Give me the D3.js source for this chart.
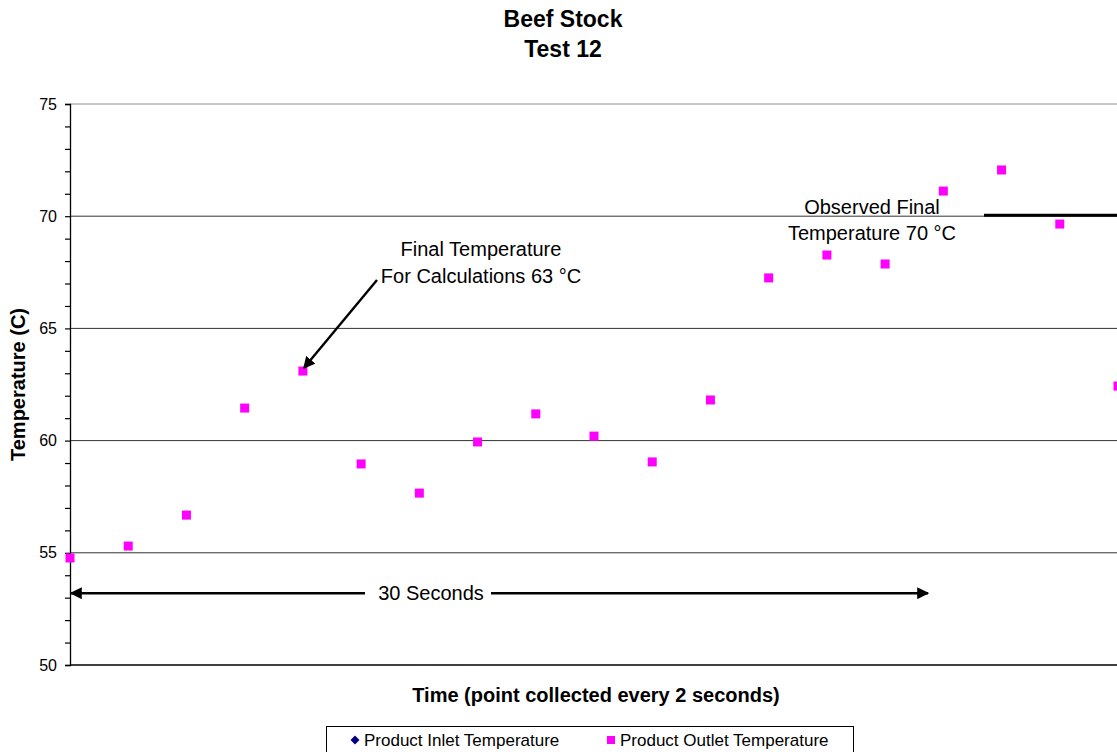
<!DOCTYPE html>
<html>
<head>
<meta charset="utf-8">
<script src="https://cdn.jsdelivr.net/npm/d3@7"></script>
<style>
  html, body { margin: 0; padding: 0; background: #fff; }
  svg { display: block; font-family: "Liberation Sans", Arial, sans-serif; }
</style>
</head>
<body>
<svg id="chart" width="1117" height="752"></svg>
<script>
// Sample index (one reading every 2 seconds)
const sampleIndex = [0, 1, 2, 3, 4, 5, 6, 7, 8, 9, 10, 11, 12, 13, 14, 15, 16, 17, 18];
// Product outlet temperature, °C
const outletTemps = [54.77, 55.30, 56.68, 61.45, 63.10, 58.96, 57.66, 59.94, 61.19, 60.20,
                     59.05, 61.81, 67.25, 68.27, 67.87, 71.12, 72.06, 69.65, 62.43];
// Product inlet temperature, °C (no readings inside the plotted range)
const inletTemps = [];
const yTicks = [50, 55, 60, 65, 70, 75];
const legendLabels = ["Product Inlet Temperature", "Product Outlet Temperature"];

const svg = d3.select("#chart");
const plotLeft = 70, plotTop = 104, plotBottom = 665, plotRight = 1118;

const x = d3.scaleLinear().domain([0, 18]).range([plotLeft, plotRight]);
const y = d3.scaleLinear().domain([50, 75]).range([plotBottom, plotTop]);

// Square rotated 45° for the inlet series
const diamond = d3.symbol(d3.symbolSquare, 40);

// Horizontal grid lines
svg.append("g")
  .selectAll("line")
  .data(yTicks.filter(d => d > 50))
  .join("line")
  .attr("x1", plotLeft).attr("x2", 1117)
  .attr("y1", d => y(d)).attr("y2", d => y(d))
  .attr("stroke", d => d === 75 ? "#8c8c8c" : "#333")
  .attr("stroke-width", 1);

// Y axis with major labels and minor ticks each degree
const yAxis = d3.axisLeft(y)
  .tickValues(d3.range(50, 76, 1))
  .tickSize(5)
  .tickFormat(d => yTicks.includes(d) ? d : "");
const gy = svg.append("g").attr("transform", `translate(${plotLeft},0)`).call(yAxis);
gy.select(".domain").attr("stroke", "#000").attr("stroke-width", 1.3);
gy.selectAll(".tick line").attr("stroke", "#000").attr("stroke-width", 1.2);
gy.selectAll(".tick text")
  .attr("font-size", 16).attr("fill", "#000")
  .attr("x", -13).attr("font-family", "Liberation Sans, Arial, sans-serif");

// X axis baseline
svg.append("line")
  .attr("x1", plotLeft).attr("x2", 1117)
  .attr("y1", plotBottom).attr("y2", plotBottom)
  .attr("stroke", "#000").attr("stroke-width", 1.3);

// Outlet temperature markers
const ms = 9;
svg.append("g")
  .selectAll("rect")
  .data(outletTemps)
  .join("rect")
  .attr("x", (d, i) => x(sampleIndex[i]) - ms / 2)
  .attr("y", d => y(d) - ms / 2)
  .attr("width", ms).attr("height", ms)
  .attr("fill", "#ff00ff");

// Inlet temperature markers
svg.append("g")
  .selectAll("path")
  .data(inletTemps)
  .join("path")
  .attr("d", diamond)
  .attr("transform", (d, i) => `translate(${x(sampleIndex[i])},${y(d)}) rotate(45)`)
  .attr("fill", "#000080");

// Arrowhead marker
const defs = svg.append("defs");
defs.append("marker")
  .attr("id", "arrow")
  .attr("viewBox", "0 0 10 10")
  .attr("refX", 9).attr("refY", 5)
  .attr("markerWidth", 5).attr("markerHeight", 5)
  .attr("markerUnits", "strokeWidth")
  .attr("orient", "auto-start-reverse")
  .append("path").attr("d", "M0,0 L10,5 L0,10 Z").attr("fill", "#000");

const annFont = 20;

// "30 Seconds" span annotation
const spanY = y(53.2);
svg.append("line")
  .attr("x1", x(0) + 1).attr("x2", 365)
  .attr("y1", spanY).attr("y2", spanY)
  .attr("stroke", "#000").attr("stroke-width", 2.4)
  .attr("marker-start", "url(#arrow)");
svg.append("line")
  .attr("x1", 491).attr("x2", 928)
  .attr("y1", spanY).attr("y2", spanY)
  .attr("stroke", "#000").attr("stroke-width", 2.4)
  .attr("marker-end", "url(#arrow)");
svg.append("text")
  .attr("x", 431).attr("y", spanY + 7)
  .attr("text-anchor", "middle").attr("font-size", annFont)
  .text("30 Seconds");

// Final temperature for calculations annotation
svg.append("line")
  .attr("x1", 377).attr("y1", 280)
  .attr("x2", x(4) + 1).attr("y2", y(63.1) - 3)
  .attr("stroke", "#000").attr("stroke-width", 2.4)
  .attr("marker-end", "url(#arrow)");
svg.append("text")
  .attr("x", 481).attr("y", 256)
  .attr("text-anchor", "middle").attr("font-size", annFont)
  .text("Final Temperature");
svg.append("text")
  .attr("x", 481).attr("y", 283)
  .attr("text-anchor", "middle").attr("font-size", annFont)
  .text("For Calculations 63 \u00B0C");

// Observed final temperature annotation
svg.append("line")
  .attr("x1", 984).attr("x2", 1117)
  .attr("y1", y(70) - 1).attr("y2", y(70) - 1)
  .attr("stroke", "#000").attr("stroke-width", 3);
svg.append("text")
  .attr("x", 872).attr("y", 214)
  .attr("text-anchor", "middle").attr("font-size", annFont)
  .text("Observed Final");
svg.append("text")
  .attr("x", 872).attr("y", 240)
  .attr("text-anchor", "middle").attr("font-size", annFont)
  .text("Temperature 70 \u00B0C");

// Titles
svg.append("text")
  .attr("x", 563).attr("y", 27)
  .attr("text-anchor", "middle").attr("font-size", 23).attr("font-weight", "bold")
  .text("Beef Stock");
svg.append("text")
  .attr("x", 563).attr("y", 57)
  .attr("text-anchor", "middle").attr("font-size", 23).attr("font-weight", "bold")
  .text("Test 12");

// Axis titles
svg.append("text")
  .attr("transform", `translate(25,${(plotTop + plotBottom) / 2}) rotate(-90)`)
  .attr("text-anchor", "middle").attr("font-size", 20).attr("font-weight", "bold")
  .text("Temperature (C)");
svg.append("text")
  .attr("x", 596).attr("y", 702)
  .attr("text-anchor", "middle").attr("font-size", 20).attr("font-weight", "bold")
  .text("Time (point collected every 2 seconds)");

// Legend
const lg = svg.append("g");
lg.append("rect")
  .attr("x", 326.5).attr("y", 726.5)
  .attr("width", 527).attr("height", 40)
  .attr("fill", "#fff").attr("stroke", "#000").attr("stroke-width", 1);
lg.append("path")
  .attr("d", diamond)
  .attr("transform", "translate(355,740) rotate(45)")
  .attr("fill", "#000080");
lg.append("text")
  .attr("x", 364).attr("y", 746).attr("font-size", 17)
  .text(legendLabels[0]);
lg.append("rect")
  .attr("x", 607).attr("y", 736)
  .attr("width", 8).attr("height", 8)
  .attr("fill", "#ff00ff");
lg.append("text")
  .attr("x", 620).attr("y", 746).attr("font-size", 17)
  .text(legendLabels[1]);
</script>
</body>
</html>
